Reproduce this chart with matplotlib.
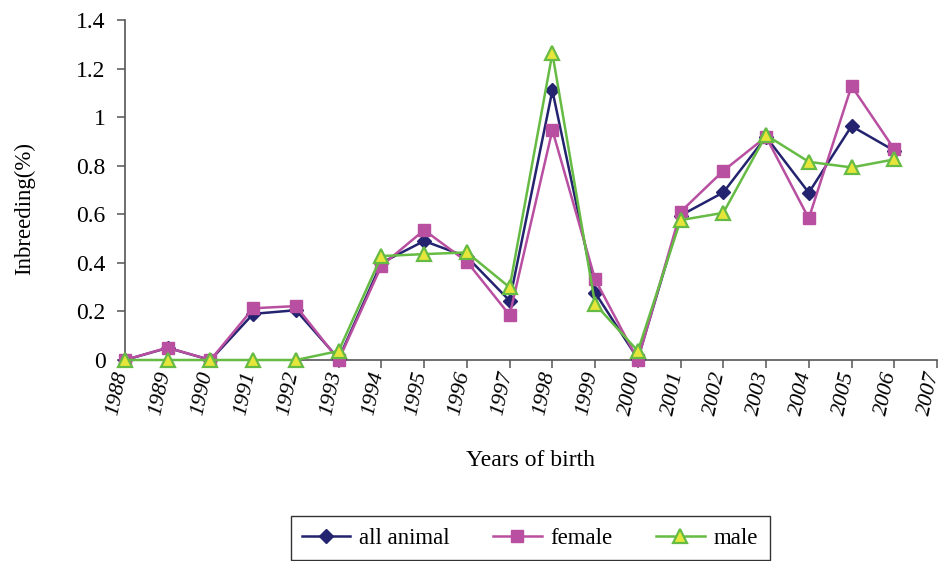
import matplotlib
matplotlib.use("Agg")
import matplotlib.pyplot as plt
import matplotlib.transforms as mtransforms

years = list(range(1988, 2007))
all_animal = [0.0, 0.05, 0.0, 0.19, 0.205, 0.005, 0.40, 0.49, 0.425, 0.244, 1.11, 0.277, 0.005,
              0.595, 0.69, 0.919, 0.689, 0.963, 0.862]
female = [0.0, 0.051, 0.0, 0.213, 0.222, 0.0, 0.388, 0.535, 0.405, 0.185, 0.947, 0.332, 0.0,
          0.61, 0.779, 0.919, 0.583, 1.128, 0.868]
male = [0.0, 0.0, 0.0, 0.0, 0.0, 0.037, 0.428, 0.436, 0.443, 0.299, 1.263, 0.23, 0.037,
        0.576, 0.606, 0.926, 0.816, 0.793, 0.826]
tick_years = list(range(1988, 2008))
yticks = [0, 0.2, 0.4, 0.6, 0.8, 1.0, 1.2, 1.4]
ytick_labels = ["0", "0.2", "0.4", "0.6", "0.8", "1", "1.2", "1.4"]

plt.rcParams['font.family'] = ['Liberation Serif', 'DejaVu Serif']

W, H = 944, 561
fig = plt.figure(figsize=(W / 100, H / 100), dpi=100)
ax = fig.add_axes([125 / W, 1 - 360 / H, (937 - 125) / W, (360 - 20) / H])

navy = '#23236F'
pink = '#B84FA0'
green = '#66BB44'
yellow = '#E6E63A'

ax.plot(years, all_animal, color=navy, lw=1.8, marker='D', ms=7.5, mfc=navy, mec=navy,
        label='all animal', clip_on=False, zorder=3)
ax.plot(years, female, color=pink, lw=1.8, marker='s', ms=9, mfc=pink, mec=pink,
        label='female', clip_on=False, zorder=4)
ax.plot(years, male, color=green, lw=1.8, marker='^', ms=9.5, mfc=yellow, mec=green, mew=1.6,
        label='male', clip_on=False, zorder=5)

ax.set_xlim(1988, 2007)
ax.set_ylim(0, 1.4)
ax.set_xticks(tick_years)
ax.set_xticklabels([])
trans = ax.get_xaxis_transform() + mtransforms.ScaledTranslation(-3 / 100, -12 / 100, fig.dpi_scale_trans)
for yv in tick_years:
    ax.text(yv, 0, str(yv), transform=trans, rotation=78, fontsize=16, style='italic',
            ha='right', va='center', rotation_mode='anchor', clip_on=False)
ax.set_yticks(yticks)
ax.set_yticklabels(ytick_labels, fontsize=17)

for s in ['top', 'right']:
    ax.spines[s].set_visible(False)
for s in ['left', 'bottom']:
    ax.spines[s].set_color('#555555')
    ax.spines[s].set_linewidth(1.2)
ax.tick_params(axis='both', direction='out', length=6, color='#555555', width=1.1)
ax.tick_params(axis='y', pad=8)

fig.text(25 / W, 1 - 208 / H, 'Inbreeding(%)', rotation=90, ha='center', va='center', fontsize=16.5)
fig.text(530 / W, 1 - 461 / H, 'Years of birth', ha='center', va='center', fontsize=17)

leg = fig.legend(loc='center', bbox_to_anchor=(530 / W, 1 - 538 / H), ncol=3, frameon=True,
                 fancybox=False, edgecolor='black', fontsize=16.5, handlelength=2.1,
                 columnspacing=1.9, handletextpad=0.4, borderpad=0.5, borderaxespad=0)
leg.get_frame().set_linewidth(1.0)

fig.savefig('out.png', dpi=100)
